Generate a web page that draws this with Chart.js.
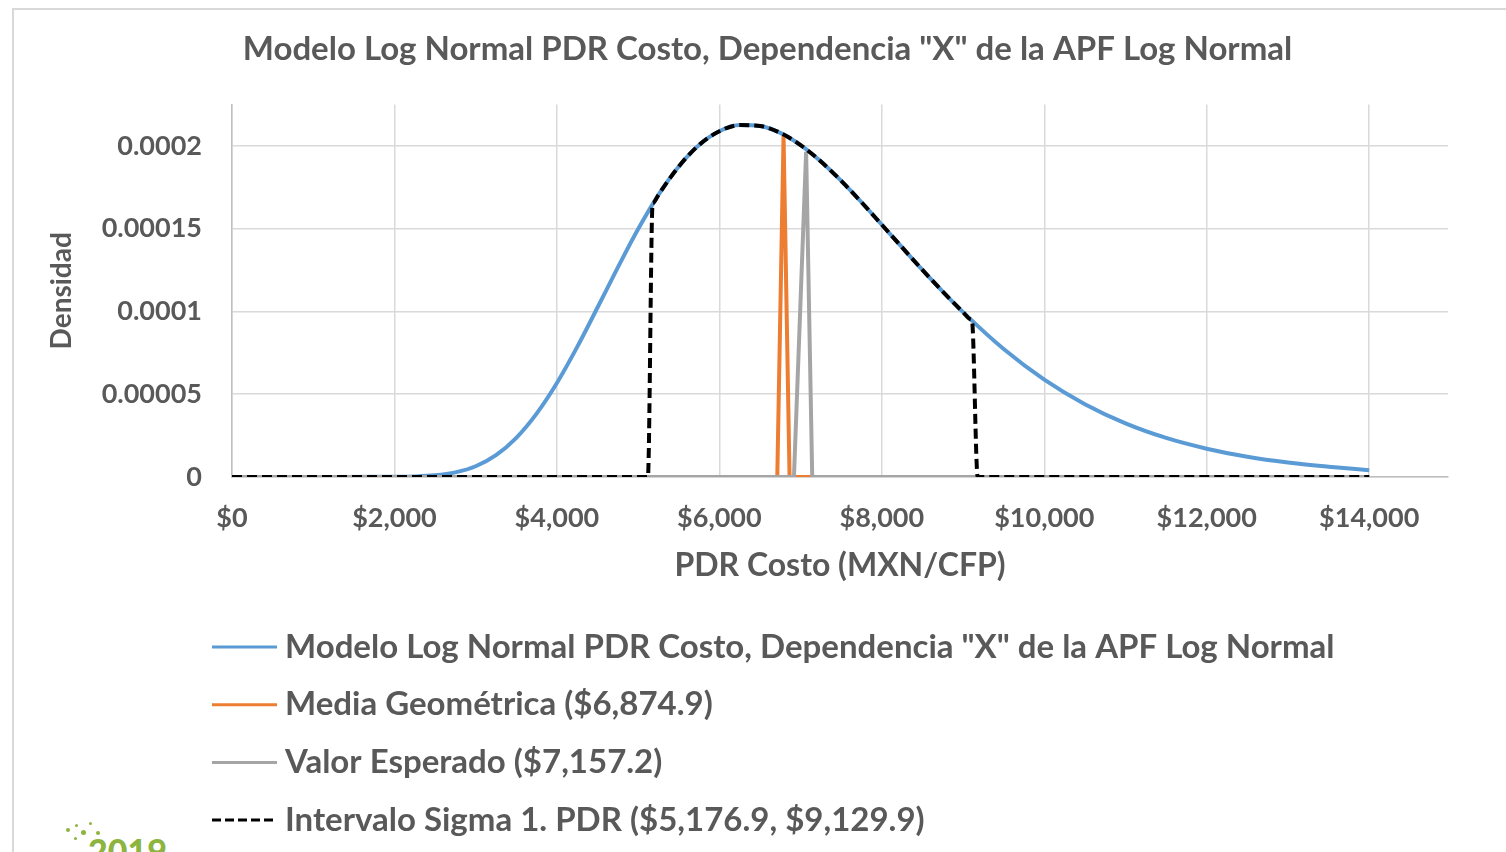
<!DOCTYPE html>
<html lang="es">
<head>
    <meta charset="UTF-8">
    <title>Modelo Log Normal PDR Costo</title>
    <script src="https://cdn.jsdelivr.net/npm/chart.js"></script>
    <style>
        body {
            margin: 0;
            padding: 0;
            background: #ffffff;
            overflow: hidden;
        }
        .marco {
            position: absolute;
            left: 12px;
            top: 8px;
            width: 1600px;
            height: 900px;
            border-left: 2px solid #d9d9d9;
            border-top: 2px solid #d9d9d9;
        }
        .chart-container {
            position: absolute;
            left: 0;
            top: 0;
            width: 1506px;
            height: 852px;
        }
        .logo {
            position: absolute;
            left: 88px;
            top: 834px;
            font-family: Lato, sans-serif;
            font-weight: 900;
            font-size: 34px;
            color: #8cb43f;
            line-height: 1;
        }
        .punto {
            position: absolute;
            width: 4px;
            height: 4px;
            border-radius: 50%;
            background: #8cb43f;
        }
    </style>
</head>
<body>
    <div class="marco"></div>
    <div class="logo">2019</div>
    <div class="punto" style="left:66px;top:828px"></div>
    <div class="punto" style="left:75px;top:824px;width:3px;height:3px"></div>
    <div class="punto" style="left:81px;top:830px;width:5px;height:5px"></div>
    <div class="punto" style="left:89px;top:822px;width:3px;height:3px"></div>
    <div class="punto" style="left:96px;top:831px"></div>
    <div class="punto" style="left:74px;top:837px;width:3px;height:3px"></div>
    <div class="chart-container">
        <canvas id="grafica"></canvas>
    </div>

    <script>
        // Datos
        const costoX = [0, 1000, 2000, 2250, 2500, 2750, 3000, 3250, 3500, 3750, 4000, 4250, 4500, 4750, 5000, 5250, 5500, 5750, 6000, 6250, 6500, 6750, 7000, 7250, 7500, 7750, 8000, 8250, 8500, 8750, 9000, 9500, 10000, 10500, 11000, 11500, 12000, 12500, 13000, 13500, 14000];
        const densidad = [0, 0, 0.0000001, 0.0000003, 0.000001, 0.0000028, 0.0000065, 0.0000132, 0.0000237, 0.0000383, 0.0000568, 0.0000786, 0.0001024, 0.0001266, 0.0001498, 0.0001705, 0.0001876, 0.0002006, 0.0002089, 0.0002126, 0.0002121, 0.0002079, 0.0002005, 0.0001906, 0.0001789, 0.000166, 0.0001524, 0.0001387, 0.0001251, 0.000112, 0.0000996, 0.0000773, 0.0000588, 0.000044, 0.0000324, 0.0000236, 0.0000171, 0.0000122, 0.0000087, 0.0000062, 0.0000041];

        const mediaGeoX = [0, 6713, 6790, 6864, 14000];
        const mediaGeoY = [0, 0, 0.000206, 0, 0];

        const esperadoX = [0, 6918, 7068, 7143, 14000];
        const esperadoY = [0, 0, 0.0001965, 0, 0];

        const intervaloX = [0, 5120, 5177, 5185, 5250, 5500, 5750, 6000, 6250, 6500, 6750, 7000, 7250, 7500, 7750, 8000, 8250, 8500, 8750, 9000, 9100, 9110, 9180, 14000];
        const intervaloY = [0, 0, 0.0001648, 0.0001655, 0.0001705, 0.0001876, 0.0002006, 0.0002089, 0.0002126, 0.0002121, 0.0002079, 0.0002005, 0.0001906, 0.0001789, 0.000166, 0.0001524, 0.0001387, 0.0001251, 0.000112, 0.0000996, 0.0000951, 0.0000947, 0, 0];

        const etiquetasSerie = [
            'Modelo Log Normal PDR Costo, Dependencia "X" de la APF Log Normal',
            'Media Geométrica ($6,874.9)',
            'Valor Esperado ($7,157.2)',
            'Intervalo Sigma 1. PDR ($5,176.9, $9,129.9)'
        ];

        const xTicks = [0, 2000, 4000, 6000, 8000, 10000, 12000, 14000];
        const xTickLabels = ['$0', '$2,000', '$4,000', '$6,000', '$8,000', '$10,000', '$12,000', '$14,000'];
        const yTicks = [0, 0.00005, 0.0001, 0.00015, 0.0002];
        const yTickLabels = ['0', '0.00005', '0.0001', '0.00015', '0.0002'];

        const fuente = 'Lato, sans-serif';
        const gris = '#595959';

        function puntos(xs, ys) {
            return xs.map((x, i) => ({ x: x, y: ys[i] }));
        }

        // leyenda dibujada a mano: una fila por serie, alineada a la izquierda
        const leyendaPlugin = {
            id: 'leyenda',
            afterDraw(chart, args, opts) {
                const ctx = chart.ctx;
                ctx.save();
                ctx.font = 'bold ' + opts.size + 'px ' + fuente;
                ctx.fillStyle = gris;
                ctx.textBaseline = 'middle';
                chart.data.datasets.forEach((ds, i) => {
                    const y = opts.top + i * opts.paso;
                    ctx.beginPath();
                    ctx.strokeStyle = ds.borderColor;
                    ctx.lineWidth = 3;
                    ctx.setLineDash(ds.borderDash ? [9, 4] : []);
                    ctx.moveTo(opts.x, y);
                    ctx.lineTo(opts.x + opts.largo, y);
                    ctx.stroke();
                    ctx.setLineDash([]);
                    ctx.fillText(ds.label, opts.x + opts.largo + 8, y);
                });
                ctx.restore();
            }
        };

        const ctx = document.getElementById('grafica').getContext('2d');
        const chart = new Chart(ctx, {
            type: 'line',
            data: {
                datasets: [
                    {
                        label: etiquetasSerie[0],
                        data: puntos(costoX, densidad),
                        borderColor: '#5b9bd5',
                        borderWidth: 4,
                        cubicInterpolationMode: 'monotone',
                        pointRadius: 0,
                        order: 3
                    },
                    {
                        label: etiquetasSerie[1],
                        data: puntos(mediaGeoX, mediaGeoY),
                        borderColor: '#ed7d31',
                        borderWidth: 4,
                        pointRadius: 0,
                        order: 2
                    },
                    {
                        label: etiquetasSerie[2],
                        data: puntos(esperadoX, esperadoY),
                        borderColor: '#a5a5a5',
                        borderWidth: 4,
                        pointRadius: 0,
                        order: 1
                    },
                    {
                        label: etiquetasSerie[3],
                        data: puntos(intervaloX, intervaloY),
                        borderColor: '#000000',
                        borderWidth: 4,
                        borderDash: [10, 5],
                        cubicInterpolationMode: 'monotone',
                        pointRadius: 0,
                        order: 0
                    }
                ]
            },
            options: {
                responsive: true,
                maintainAspectRatio: false,
                animation: false,
                layout: {
                    padding: { left: 87, right: 58, top: 15, bottom: 245 }
                },
                scales: {
                    x: {
                        type: 'linear',
                        min: 0,
                        max: 14970,
                        afterBuildTicks: (scale) => {
                            scale.ticks = xTicks.map(v => ({ value: v }));
                        },
                        afterFit: (scale) => {
                            scale.height = 130;
                        },
                        ticks: {
                            autoSkip: false,
                            maxRotation: 0,
                            padding: 25,
                            color: gris,
                            font: { family: fuente, size: 27, weight: 'bold' },
                            callback: (v, i) => xTickLabels[i]
                        },
                        grid: {
                            color: '#d9d9d9',
                            lineWidth: 1.5,
                            drawTicks: false
                        },
                        border: { color: '#bfbfbf', width: 1.5 },
                        title: {
                            display: true,
                            text: 'PDR Costo (MXN/CFP)',
                            color: gris,
                            font: { family: fuente, size: 32, weight: 'bold' },
                            padding: { top: 0, bottom: 22 }
                        }
                    },
                    y: {
                        min: 0,
                        max: 0.000225,
                        afterBuildTicks: (scale) => {
                            scale.ticks = yTicks.map(v => ({ value: v }));
                        },
                        afterFit: (scale) => {
                            scale.width = 145;
                        },
                        ticks: {
                            padding: 30,
                            color: gris,
                            font: { family: fuente, size: 27, weight: 'bold' },
                            callback: (v, i) => yTickLabels[i]
                        },
                        grid: {
                            color: '#d9d9d9',
                            lineWidth: 1.5,
                            drawTicks: false
                        },
                        border: { color: '#bfbfbf', width: 1.5 },
                        title: {
                            display: true,
                            text: 'Densidad',
                            color: gris,
                            font: { family: fuente, size: 28, weight: 'bold' },
                            padding: { top: -42, bottom: 0 }
                        }
                    }
                },
                plugins: {
                    legend: { display: false },
                    tooltip: { enabled: false },
                    title: {
                        display: true,
                        text: 'Modelo Log Normal PDR Costo, Dependencia "X" de la APF Log Normal',
                        color: gris,
                        font: { family: fuente, size: 33, weight: 'bold' },
                        padding: { top: 15, bottom: 35 }
                    },
                    leyenda: { x: 212, largo: 65, top: 647, paso: 57.7, size: 33 }
                }
            },
            plugins: [leyendaPlugin]
        });
    </script>
</body>
</html>
